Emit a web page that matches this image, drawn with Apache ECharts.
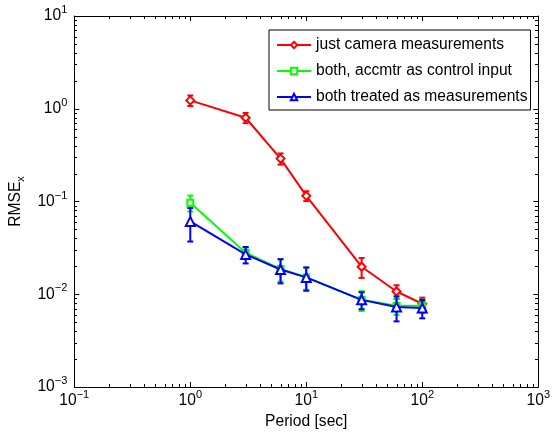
<!DOCTYPE html>
<html>
<head>
<meta charset="utf-8">
<script src="https://cdn.jsdelivr.net/npm/echarts@6/dist/echarts.min.js"></script>
<style>
html,body{margin:0;padding:0;background:#fff;}
#chart{width:553px;height:435px;}
</style>
</head>
<body>
<div id="chart"></div>
<script>
// ---- data ----
const periods = [1, 3, 6, 10, 30, 60, 100];
const seriesNames = ['just camera measurements', 'both, accmtr as control input', 'both treated as measurements'];
const cameraOnly    = [1.23, 0.80, 0.29, 0.115, 0.0198, 0.0107, 0.0079];
const cameraOnlyErr = [0.16, 0.10, 0.04, 0.014, 0.0048, 0.0018, 0.0013];
const accControl    = [0.097, 0.028, 0.0187, 0.0152, 0.0087, 0.0075, 0.0075];
const accControlErr = [0.019, 0.004, 0.005, 0.004, 0.0021, 0.0015, 0.0012];
const bothMeas      = [0.061, 0.0269, 0.0185, 0.0152, 0.0087, 0.0073, 0.0071];
const bothMeasErr   = [0.024, 0.0054, 0.0054, 0.0043, 0.0018, 0.0022, 0.0016];
const xTickExp = [-1, 0, 1, 2, 3];
const yTickExp = [-3, -2, -1, 0, 1];

const FONT = '"Liberation Sans", Arial, Helvetica, sans-serif';
const FS = 15.6;
const colors = ['#ff0000', '#00ff00', '#0000ff'];
const symbols = ['emptyDiamond', 'emptyRect', 'emptyTriangle'];
const symSizes = [8, 6, 9];

function minorTicks(lo, hi) {
  const out = [];
  for (let d = lo; d < hi; d++) {
    const base = Math.pow(10, d);
    for (let k = 2; k <= 9; k++) out.push(+(base * k).toPrecision(6));
  }
  return out;
}
const xMinor = minorTicks(xTickExp[0], xTickExp[xTickExp.length - 1]);
const yMinor = minorTicks(yTickExp[0], yTickExp[yTickExp.length - 1]);
const X_MIN = Math.pow(10, xTickExp[0]), X_MAX = Math.pow(10, xTickExp[xTickExp.length - 1]);
const Y_MIN = Math.pow(10, yTickExp[0]), Y_MAX = Math.pow(10, yTickExp[yTickExp.length - 1]);

function expLabel(v) {
  const e = Math.round(Math.log10(v));
  const s = e < 0 ? '\u2212' + (-e) : String(e);
  return '{b|10}{s|' + s + '}';
}
const richLab = {
  b: { fontFamily: FONT, fontSize: FS, color: '#000' },
  s: { fontFamily: FONT, fontSize: 11, color: '#000', padding: [0, 0, 12, 0] }
};

function logAxis(min, max, pos, opts) {
  return Object.assign({
    type: 'log', logBase: 10, min: min, max: max, position: pos,
    gridIndex: 0,
    splitLine: { show: false },
    axisLine: { show: true, onZero: false, lineStyle: { color: '#000', width: 1 } },
    axisTick: { show: true, inside: true, length: 5, lineStyle: { color: '#000', width: 1 } },
    axisLabel: { show: false },
    minorTick: { show: false }
  }, opts);
}

const xLab = { show: true, margin: 2, formatter: expLabel, rich: richLab, showMinLabel: true, showMaxLabel: true };
const yLab = { show: true, margin: 7, formatter: expLabel, rich: richLab, showMinLabel: true, showMaxLabel: true };

const xAxes = [
  logAxis(X_MIN, X_MAX, 'bottom', {
    axisLabel: xLab,
    name: 'Period [sec]', nameLocation: 'middle', nameGap: 27,
    nameTextStyle: { fontFamily: FONT, fontSize: FS, color: '#000' }
  }),
  logAxis(X_MIN, X_MAX, 'top', {})
];
const yAxes = [
  logAxis(Y_MIN, Y_MAX, 'left', {
    axisLabel: yLab,
    name: '{a|RMSE}{x|x}', nameLocation: 'middle', nameGap: 40, nameRotate: 90,
    nameTextStyle: {
      rich: {
        a: { fontFamily: FONT, fontSize: FS, color: '#000' },
        x: { fontFamily: FONT, fontSize: 11, color: '#000', padding: [10, 0, 0, 0] }
      }
    }
  }),
  logAxis(Y_MIN, Y_MAX, 'right', {})
];

// minor ticks, inside on all four sides, placed through the axes' own log scales
function minorTickSeries(values, isX) {
  return {
    type: 'custom',
    xAxisIndex: 0, yAxisIndex: 0,
    z: 2,
    silent: true,
    clip: false,
    encode: { x: 0, y: 1 },
    data: values.map(v => isX ? [v, 1] : [1, v]),
    renderItem: function (params, api) {
      const v = isX ? api.value(0) : api.value(1);
      const L = 3;
      let r1, r2;
      if (isX) {
        const p0 = api.coord([v, Y_MIN]);
        const p1 = api.coord([v, Y_MAX]);
        const x = Math.round(p0[0]);
        r1 = { x: x, y: Math.round(p0[1]) - L, width: 1, height: L };
        r2 = { x: x, y: Math.round(p1[1]), width: 1, height: L };
      } else {
        const p0 = api.coord([X_MIN, v]);
        const p1 = api.coord([X_MAX, v]);
        const y = Math.round(p0[1]);
        r1 = { x: Math.round(p0[0]), y: y, width: L, height: 1 };
        r2 = { x: Math.round(p1[0]) - L, y: y, width: L, height: 1 };
      }
      return { type: 'group', children: [
        { type: 'rect', shape: r1, style: { fill: '#000', stroke: null } },
        { type: 'rect', shape: r2, style: { fill: '#000', stroke: null } }
      ] };
    }
  };
}

function errSeries(vals, errs, color, z) {
  return {
    type: 'custom',
    xAxisIndex: 0, yAxisIndex: 0,
    z: z,
    silent: true,
    encode: { x: 0, y: 1 },
    data: periods.map((p, i) => [p, vals[i], errs[i]]),
    renderItem: function (params, api) {
      const x = api.value(0), y = api.value(1), e = api.value(2);
      const top = api.coord([x, y + e]);
      const bot = api.coord([x, y - e]);
      const w = 3;
      const st = { stroke: color, lineWidth: 2, fill: null };
      return {
        type: 'group',
        children: [
          { type: 'line', shape: { x1: top[0], y1: top[1], x2: bot[0], y2: bot[1] }, style: st },
          { type: 'line', shape: { x1: top[0] - w, y1: top[1], x2: top[0] + w, y2: top[1] }, style: st },
          { type: 'line', shape: { x1: bot[0] - w, y1: bot[1], x2: bot[0] + w, y2: bot[1] }, style: st }
        ]
      };
    }
  };
}
function lineSeries(name, vals, idx, z) {
  return {
    type: 'line', name: name,
    xAxisIndex: 0, yAxisIndex: 0,
    z: z,
    data: periods.map((p, i) => [p, vals[i]]),
    symbol: symbols[idx], symbolSize: symSizes[idx],
    showAllSymbol: true,
    lineStyle: { color: colors[idx], width: 2 },
    itemStyle: { color: colors[idx], borderColor: colors[idx], borderWidth: 2 },
    emphasis: { disabled: true },
    animation: false
  };
}

const chart = echarts.init(document.getElementById('chart'), null, { renderer: 'canvas' });
chart.setOption({
  animation: false,
  backgroundColor: '#fff',
  grid: { left: 71, right: 12, top: 16, bottom: 46, containLabel: false },
  xAxis: xAxes,
  yAxis: yAxes,
  legend: {
    data: seriesNames,
    orient: 'vertical',
    left: 269, top: 30,
    padding: [7, 3, 5, 7],
    itemWidth: 34, itemHeight: 8,
    itemGap: 10,
    backgroundColor: '#fff',
    borderColor: '#000', borderWidth: 1,
    textStyle: { fontFamily: FONT, fontSize: FS, color: '#000' },
    selectedMode: false
  },
  series: [
    minorTickSeries(xMinor, true),
    minorTickSeries(yMinor, false),
    errSeries(cameraOnly, cameraOnlyErr, colors[0], 2),
    lineSeries(seriesNames[0], cameraOnly, 0, 3),
    errSeries(accControl, accControlErr, colors[1], 4),
    lineSeries(seriesNames[1], accControl, 1, 5),
    errSeries(bothMeas, bothMeasErr, colors[2], 6),
    lineSeries(seriesNames[2], bothMeas, 2, 7)
  ]
});
</script>
</body>
</html>
